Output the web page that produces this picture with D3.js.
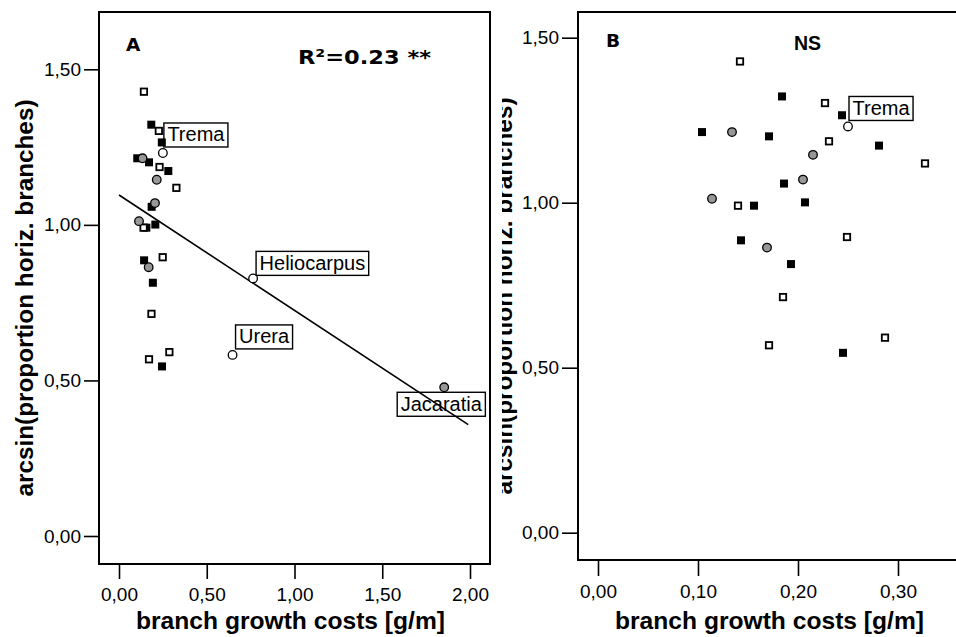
<!DOCTYPE html>
<html><head><meta charset="utf-8">
<script src="https://cdn.jsdelivr.net/npm/d3@7"></script>
<style>body{margin:0;background:#fff}svg{display:block}</style>
</head><body>
<svg id="chart" width="956" height="637"></svg>
<script>
// ---- data ----
const blackSqCost = [0.184, 0.244, 0.104, 0.171, 0.281, 0.186, 0.156, 0.207, 0.143, 0.193, 0.245];
const blackSqArc  = [1.322, 1.265, 1.214, 1.201, 1.173, 1.058, 0.991, 1.001, 0.886, 0.814, 0.545];
const openSqCost  = [0.142, 0.227, 0.231, 0.327, 0.140, 0.249, 0.185, 0.171, 0.287];
const openSqArc   = [1.428, 1.302, 1.186, 1.119, 0.991, 0.896, 0.714, 0.568, 0.591];
const greyCircCost = [0.134, 0.215, 0.205, 0.114, 0.169, 1.853];
const greyCircArc  = [1.214, 1.145, 1.070, 1.012, 0.864, 0.478];
const greyCircName = ["", "", "", "", "", "Jacaratia"];
const openCircCost = [0.250, 0.764, 0.647];
const openCircArc  = [1.231, 0.828, 0.582];
const openCircName = ["Trema", "Heliocarpus", "Urera"];
const yTicks  = [0, 0.5, 1.0, 1.5];
const xTicksA = [0, 0.5, 1.0, 1.5, 2.0];
const xTicksB = [0, 0.1, 0.2, 0.3];
const fitIntercept = 1.096, fitSlope = -0.371, fitRange = [0, 1.99];
const panelLetters = ["A", "B"];
const statTexts = ["R²=0.23 **", "NS"];
const xTitle = "branch growth costs [g/m]";
const yTitle = "arcsin(proportion horiz. branches)";

// ---- layout ----
const svg = d3.select("#chart");
svg.append("rect").attr("width", 956).attr("height", 637).attr("fill", "#fff");
const fmt = d3.formatLocale({decimal: ",", thousands: ".", grouping: [3], currency: ["", ""]}).format(".2f");
const FONT = "'Liberation Sans', Arial, sans-serif";
const VFONT = "'DejaVu Sans', Verdana, sans-serif";

const panels = [
  {id: "A", x0: 99, x1: 490, y0: 12, y1: 564, xs: d3.scaleLinear([0, 2], [119, 470]),
   ys: d3.scaleLinear([0, 1.5], [536, 69.3]), xt: xTicksA, xmax: 2.1, tick: 15, xpad: 9,
   titleX: 290.5, yTitleX: 33, yTitleY: 298, clipLeft: 0},
  {id: "B", x0: 578, x1: 964, y0: 12, y1: 560, xs: d3.scaleLinear([0, 0.3], [598, 898]),
   ys: d3.scaleLinear([0, 1.5], [532.7, 37.7]), xt: xTicksB, xmax: 0.36, tick: 16, xpad: 9,
   titleX: 769.5, yTitleX: 512, yTitleY: 296, clipLeft: 502}
];

const labelOffsets = {Trema: [1, -6, "above"], Heliocarpus: [3, -3, "above"], Urera: [3, -6, "above"], Jacaratia: [-47, 5, "below"]};

const defs = svg.append("defs");

panels.forEach((p, i) => {
  const g = svg.append("g");
  defs.append("clipPath").attr("id", "clip" + p.id)
    .append("rect").attr("x", p.x0).attr("y", p.y0).attr("width", p.x1 - p.x0).attr("height", p.y1 - p.y0);
  defs.append("clipPath").attr("id", "tclip" + p.id)
    .append("rect").attr("x", p.clipLeft).attr("y", 0).attr("width", 956).attr("height", 637);

  // y axis title
  g.append("g").attr("clip-path", `url(#tclip${p.id})`)
    .append("text")
    .attr("transform", `translate(${p.yTitleX},${p.yTitleY}) rotate(-90)`)
    .attr("text-anchor", "middle").attr("font-family", FONT).attr("font-weight", "bold")
    .attr("font-size", 24).attr("textLength", 397).attr("lengthAdjust", "spacingAndGlyphs")
    .text(yTitle);

  // x axis title
  g.append("text").attr("x", p.titleX).attr("y", 629).attr("text-anchor", "middle")
    .attr("font-family", FONT).attr("font-weight", "bold").attr("font-size", 24)
    .attr("textLength", 309).attr("lengthAdjust", "spacingAndGlyphs").text(xTitle);

  // axes
  const ya = g.append("g").attr("transform", `translate(${p.x0},0)`)
    .call(d3.axisLeft(p.ys).tickValues(yTicks).tickFormat(fmt).tickSize(p.tick).tickPadding(3));
  const xa = g.append("g").attr("transform", `translate(0,${p.y1})`)
    .call(d3.axisBottom(p.xs).tickValues(p.xt).tickFormat(fmt).tickSize(p.tick).tickPadding(p.xpad));
  [ya, xa].forEach(a => {
    a.select(".domain").remove();
    a.selectAll("line").attr("stroke", "#000").attr("stroke-width", 1.6);
    a.selectAll("text").attr("font-family", FONT).attr("font-size", 19).attr("fill", "#000");
  });
  xa.selectAll("text").attr("dy", "0.71em");

  // frame
  g.append("rect").attr("x", p.x0).attr("y", p.y0).attr("width", p.x1 - p.x0).attr("height", p.y1 - p.y0)
    .attr("fill", "none").attr("stroke", "#000").attr("stroke-width", 2);

  const plot = g.append("g").attr("clip-path", `url(#clip${p.id})`);

  // regression line (panel A only)
  if (p.id === "A") {
    plot.append("line")
      .attr("x1", p.xs(fitRange[0])).attr("y1", p.ys(fitIntercept + fitSlope * fitRange[0]))
      .attr("x2", p.xs(fitRange[1])).attr("y2", p.ys(fitIntercept + fitSlope * fitRange[1]))
      .attr("stroke", "#000").attr("stroke-width", 1.6);
  }

  const inRange = c => c <= p.xmax;
  // filled squares
  plot.selectAll(".bs").data(blackSqCost.map((c, k) => [c, blackSqArc[k]]).filter(d => inRange(d[0])))
    .join("rect").attr("x", d => p.xs(d[0]) - 4).attr("y", d => p.ys(d[1]) - 4)
    .attr("width", 8).attr("height", 8).attr("fill", "#000");
  // open squares
  plot.selectAll(".os").data(openSqCost.map((c, k) => [c, openSqArc[k]]).filter(d => inRange(d[0])))
    .join("rect").attr("x", d => p.xs(d[0]) - 3.2).attr("y", d => p.ys(d[1]) - 3.2)
    .attr("width", 6.4).attr("height", 6.4).attr("fill", "#fff").attr("stroke", "#000").attr("stroke-width", 1.8);
  // grey circles
  plot.selectAll(".gc").data(greyCircCost.map((c, k) => [c, greyCircArc[k], greyCircName[k]]).filter(d => inRange(d[0])))
    .join("circle").attr("cx", d => p.xs(d[0])).attr("cy", d => p.ys(d[1])).attr("r", 4.3)
    .attr("fill", "#979797").attr("stroke", "#000").attr("stroke-width", 1.3);
  // open circles
  plot.selectAll(".oc").data(openCircCost.map((c, k) => [c, openCircArc[k], openCircName[k]]).filter(d => inRange(d[0])))
    .join("circle").attr("cx", d => p.xs(d[0])).attr("cy", d => p.ys(d[1])).attr("r", 4.3)
    .attr("fill", "#fff").attr("stroke", "#000").attr("stroke-width", 1.3);

  // point labels
  const labelled = [
    ...openCircCost.map((c, k) => [c, openCircArc[k], openCircName[k]]),
    ...greyCircCost.map((c, k) => [c, greyCircArc[k], greyCircName[k]])
  ].filter(d => d[2] && inRange(d[0]));
  labelled.forEach(d => {
    const cx = p.xs(d[0]), cy = p.ys(d[1]);
    const off = labelOffsets[d[2]];
    const lg = g.append("g");
    const t = lg.append("text").attr("font-family", FONT).attr("font-size", 20).attr("fill", "#000").text(d[2]);
    const w = t.node().getComputedTextLength() + 7;
    const h = 24;
    const left = cx + off[0];
    const top = off[2] === "above" ? cy + off[1] - h : cy + off[1];
    t.attr("x", left + 3.5).attr("y", top + 18.5);
    lg.insert("rect", "text").attr("x", left).attr("y", top).attr("width", w).attr("height", h)
      .attr("fill", "none").attr("stroke", "#000").attr("stroke-width", 1.4);
  });

  // panel letter and statistic
  g.append("text").attr("x", p.id === "A" ? 126 : 606).attr("y", p.id === "A" ? 50.7 : 46.7)
    .attr("font-family", VFONT).attr("font-weight", "bold").attr("font-size", 18.5).text(panelLetters[i]);
  if (p.id === "A") {
    g.append("text").attr("x", 298).attr("y", 64.3).attr("font-family", VFONT).attr("font-weight", "bold")
      .attr("font-size", 19.5).attr("textLength", 133).attr("lengthAdjust", "spacingAndGlyphs").text(statTexts[0]);
  } else {
    g.append("text").attr("x", 794).attr("y", 50).attr("font-family", FONT).attr("font-weight", "bold")
      .attr("font-size", 19.5).text(statTexts[1]);
  }
});
</script>
</body></html>
